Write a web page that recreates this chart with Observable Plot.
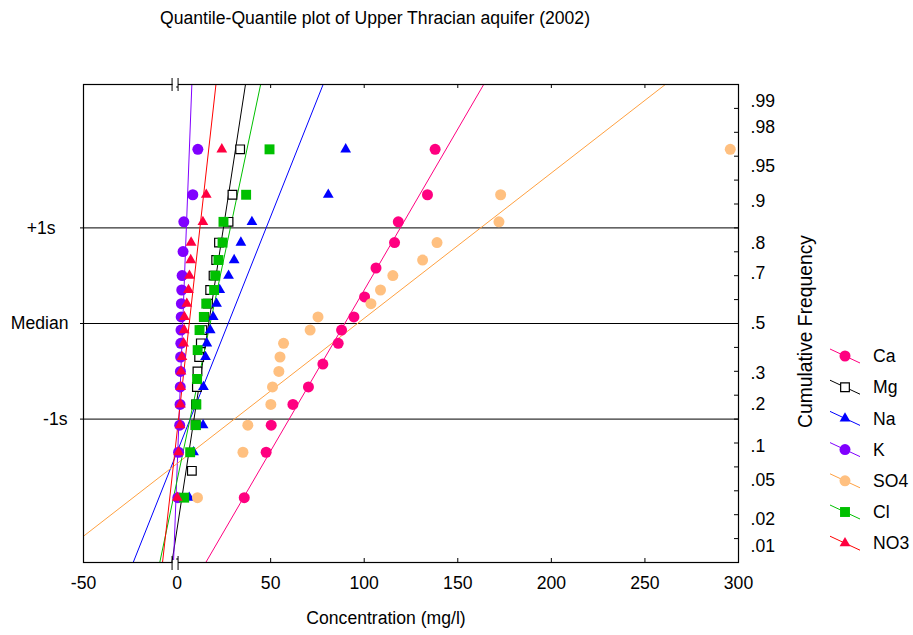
<!DOCTYPE html>
<html><head><meta charset="utf-8">
<script src="https://cdn.jsdelivr.net/npm/d3@7"></script>
<script src="https://cdn.jsdelivr.net/npm/@observablehq/plot@0.6"></script>
<style>
body{margin:0;background:#fff;}
</style></head><body><div id="chart"></div>
<script>
// ---------- data (18 samples per ion, mg/l) ----------
const seriesNames = ["Ca", "Mg", "Na", "K", "SO4", "Cl", "NO3"];
const Ca  = [35.9, 47.6, 50.3, 61.9, 70.2, 77.9, 77.9, 86.1, 87.9, 94.5, 100.2, 100.2, 106.3, 106.3, 116.2, 118.2, 133.8, 137.9];
const Mg  = [7.9, 7.9, 9.9, 10.1, 10.6, 10.9, 11.8, 12.7, 13.5, 14.5, 16.5, 17.7, 19.5, 20.9, 22.4, 27.5, 29.6, 33.7];
const Na  = [6.5, 8.8, 13.9, 14.1, 14.1, 14.1, 15.2, 15.9, 17.7, 19.3, 21.1, 22.8, 27.5, 30.5, 34.1, 40.0, 80.8, 90.1];
const K   = [0.4, 0.8, 1.4, 1.6, 1.7, 1.8, 1.9, 2.0, 2.1, 2.2, 2.3, 2.5, 2.7, 3.2, 3.2, 3.6, 8.4, 11.1];
const SO4 = [10.9, 35.2, 37.8, 50.1, 51.0, 54.4, 55.0, 56.9, 71.1, 75.3, 103.6, 108.7, 115.3, 131.2, 138.9, 172.0, 172.9, 295.6];
const Cl  = [3.8, 7.0, 10.0, 10.3, 10.7, 10.7, 11.0, 11.0, 12.0, 14.3, 15.6, 19.8, 20.4, 22.1, 24.3, 24.8, 36.9, 49.4];
const NO3 = [0.1, 0.8, 1.6, 1.8, 1.9, 2.1, 2.6, 3.5, 3.8, 3.9, 5.2, 6.1, 6.6, 7.3, 7.5, 13.8, 15.6, 23.9];
const seriesValues = [Ca, Mg, Na, K, SO4, Cl, NO3];
// fitted normal lines (mean, standard deviation)
const fitMean = [89.6, 16.9, 27.3, 3.0, 96.4, 17.7, 6.5];
const fitSD   = [29.7, 7.86, 20.3, 1.96, 65.8, 10.78, 5.71];

const xTicks = [-50, 0, 50, 100, 150, 200, 250, 300];
const cumFreqLabels = [".01", ".02", ".05", ".1", ".2", ".3", ".5", ".7", ".8", ".9", ".95", ".98", ".99"];
const cumFreqValues = [0.01, 0.02, 0.05, 0.1, 0.2, 0.3, 0.5, 0.7, 0.8, 0.9, 0.95, 0.98, 0.99];
const sigmaLabels = ["-1s", "Median", "+1s"];
const sigmaValues = [-1, 0, 1];
const minorTicksZ = [-2.25, -2, -1.75, -1.5, -1.25, -1, -0.75, -0.5, -0.25, 0, 0.25, 0.5, 0.75, 1, 1.25, 1.5, 1.75, 2, 2.25];
const titleText = "Quantile-Quantile plot of Upper Thracian aquifer (2002)";
const xLabelText = "Concentration (mg/l)";
const yLabelText = "Cumulative Frequency";

// ---------- styles ----------
const pointFill   = ["#ff0080", "#ffffff", "#0000ff", "#8000ff", "#ffc080", "#00c000", "#ff0040"];
const pointStroke = ["none", "#000000", "none", "none", "none", "none", "none"];
const lineColor   = ["#ff0080", "#000000", "#0000ff", "#8000ff", "#ffa040", "#00c000", "#ff0000"];
const symbols     = ["circle", "square", "triangle", "circle", "circle", "square", "triangle"];
const radii       = [5.5, 4.9, 4.0, 5.5, 5.5, 5.6, 4.0];
const FONT = "'Liberation Sans', Arial, sans-serif";
const FS = 17.6;

// inverse standard normal (Acklam)
function qnorm(p) {
  const a=[-3.969683028665376e+01,2.209460984245205e+02,-2.759285104469687e+02,1.383577518672690e+02,-3.066479806614716e+01,2.506628277459239e+00];
  const b=[-5.447609879822406e+01,1.615858368580409e+02,-1.556989798598866e+02,6.680131188771972e+01,-1.328068155288572e+01];
  const c=[-7.784894002430293e-03,-3.223964580411365e-01,-2.400758277161838e+00,-2.549732539343734e+00,4.374664141464968e+00,2.938163982698783e+00];
  const d=[7.784695709041462e-03,3.224671290700398e-01,2.445134137142996e+00,3.754408661907416e+00];
  const pl = 0.02425, ph = 1 - pl;
  let q, r;
  if (p < pl) { q = Math.sqrt(-2*Math.log(p)); return (((((c[0]*q+c[1])*q+c[2])*q+c[3])*q+c[4])*q+c[5])/((((d[0]*q+d[1])*q+d[2])*q+d[3])*q+1); }
  if (p <= ph) { q = p - 0.5; r = q*q; return (((((a[0]*r+a[1])*r+a[2])*r+a[3])*r+a[4])*r+a[5])*q/(((((b[0]*r+b[1])*r+b[2])*r+b[3])*r+b[4])*r+1); }
  q = Math.sqrt(-2*Math.log(1-p)); return -(((((c[0]*q+c[1])*q+c[2])*q+c[3])*q+c[4])*q+c[5])/((((d[0]*q+d[1])*q+d[2])*q+d[3])*q+1);
}
// Blom plotting positions, tied values share their mean rank
function qqPoints(values) {
  const v = values.slice().sort((a, b) => a - b), n = v.length, out = [];
  let i = 0;
  while (i < n) {
    let j = i;
    while (j + 1 < n && v[j + 1] === v[i]) j++;
    const rank = (i + j + 2) / 2;
    out.push({value: v[i], z: qnorm((rank - 0.375) / (n + 0.25))});
    i = j + 1;
  }
  return out;
}

const W = 913, H = 635, ML = 83, MR = 175, MT = 84, MB = 73;
const frameW = W - ML - MR, frameH = H - MT - MB;

const lineMarks = seriesNames.map((name, i) => Plot.line(
  [-2.5, 2.5].map(z => ({value: fitMean[i] + z * fitSD[i], z})),
  {x: "value", y: "z", stroke: lineColor[i], strokeWidth: 1, clip: true}));
const dotMarks = seriesNames.map((name, i) => Plot.dot(qqPoints(seriesValues[i]),
  {x: "value", y: "z", symbol: symbols[i], r: radii[i], fill: pointFill[i],
   stroke: pointStroke[i], strokeWidth: 1.2}));

const chart = Plot.plot({
  width: W, height: H,
  marginLeft: ML, marginRight: MR, marginTop: MT, marginBottom: MB,
  style: {fontFamily: FONT, fontSize: FS + "px", background: "#fff", color: "#000"},
  x: {domain: [-50, 300], axis: null},
  y: {domain: [-2.5, 2.5], axis: null},
  marks: [
    Plot.ruleY(sigmaValues, {stroke: "#000", strokeWidth: 1, insetLeft: -3}),
    ...lineMarks,
    ...dotMarks,
    Plot.frame({stroke: "#000", strokeWidth: 1.2}),
    Plot.tickX(xTicks, {x: d => d, insetTop: frameH - 4, stroke: "#000"}),
    Plot.tickX(xTicks, {x: d => d, insetBottom: frameH - 4, stroke: "#000"}),
    Plot.tickY(minorTicksZ, {y: d => d, insetLeft: frameW - 4, stroke: "#000"}),
    Plot.text(xTicks, {x: d => d, y: -2.5, dy: 21, text: d => String(d), fontSize: FS, fill: "#000"}),
    Plot.text(cumFreqLabels, {x: 300, y: (d, i) => qnorm(cumFreqValues[i]), text: d => d,
      dx: 12, textAnchor: "start", fontSize: FS, fill: "#000"}),
    Plot.text([sigmaLabels[0]], {x: -50, y: sigmaValues[0], text: d => d, dx: -16, textAnchor: "end", fontSize: FS, fill: "#000"}),
    Plot.text([sigmaLabels[1]], {x: -50, y: sigmaValues[1], text: d => d, dx: -15, textAnchor: "end", fontSize: FS, fill: "#000"}),
    Plot.text([sigmaLabels[2]], {x: -50, y: sigmaValues[2], text: d => d, dx: -28, textAnchor: "end", fontSize: FS, fill: "#000"}),
    Plot.text([titleText], {frameAnchor: "top", dx: -36, dy: -66, lineAnchor: "middle", textAnchor: "middle", text: d => d, fontSize: FS, fill: "#000"}),
    Plot.text([xLabelText], {frameAnchor: "bottom", dx: -25, dy: 56, lineAnchor: "middle", textAnchor: "middle", text: d => d, fontSize: FS, fill: "#000"}),
    Plot.text([yLabelText], {frameAnchor: "right", dx: 67, dy: 8, rotate: -90, lineAnchor: "middle", textAnchor: "middle", text: d => d, fontSize: 19.3, fill: "#000"})
  ]
});

// axis-break marks at x = 0 on top and bottom frame, and the legend
const svg = d3.select(chart);
const x0 = chart.scale("x").apply(0);
[[MT, 78, 91], [H - MB, H - MB - 6, H - MB + 8]].forEach(([yf, ya, yb]) => {
  svg.append("rect").attr("x", x0 - 4).attr("y", yf - 2).attr("width", 5.5).attr("height", 4).attr("fill", "#fff");
  [x0 - 4.5, x0 + 1.5].forEach(xx => svg.append("line").attr("x1", xx).attr("x2", xx)
    .attr("y1", ya).attr("y2", yb).attr("stroke", "#000").attr("stroke-width", 1));
});
const symbolType = {circle: d3.symbolCircle, square: d3.symbolSquare, triangle: d3.symbolTriangle};
const leg = svg.append("g");
seriesNames.forEach((name, i) => {
  const cy = 356 + i * 31.2, cx = 845;
  leg.append("line").attr("x1", cx - 15).attr("y1", cy - 7).attr("x2", cx + 15).attr("y2", cy + 7)
    .attr("stroke", lineColor[i]).attr("stroke-width", 1);
  leg.append("path").attr("transform", `translate(${cx},${cy})`)
    .attr("d", d3.symbol(symbolType[symbols[i]], Math.PI * radii[i] * radii[i])())
    .attr("fill", pointFill[i]).attr("stroke", pointStroke[i]).attr("stroke-width", 1.2);
  leg.append("text").attr("x", 873).attr("y", cy).attr("dy", "0.35em")
    .attr("text-anchor", "start")
    .attr("font-family", FONT).attr("font-size", FS).attr("fill", "#000").text(name);
});

document.getElementById("chart").appendChild(chart);
</script>
</body></html>
